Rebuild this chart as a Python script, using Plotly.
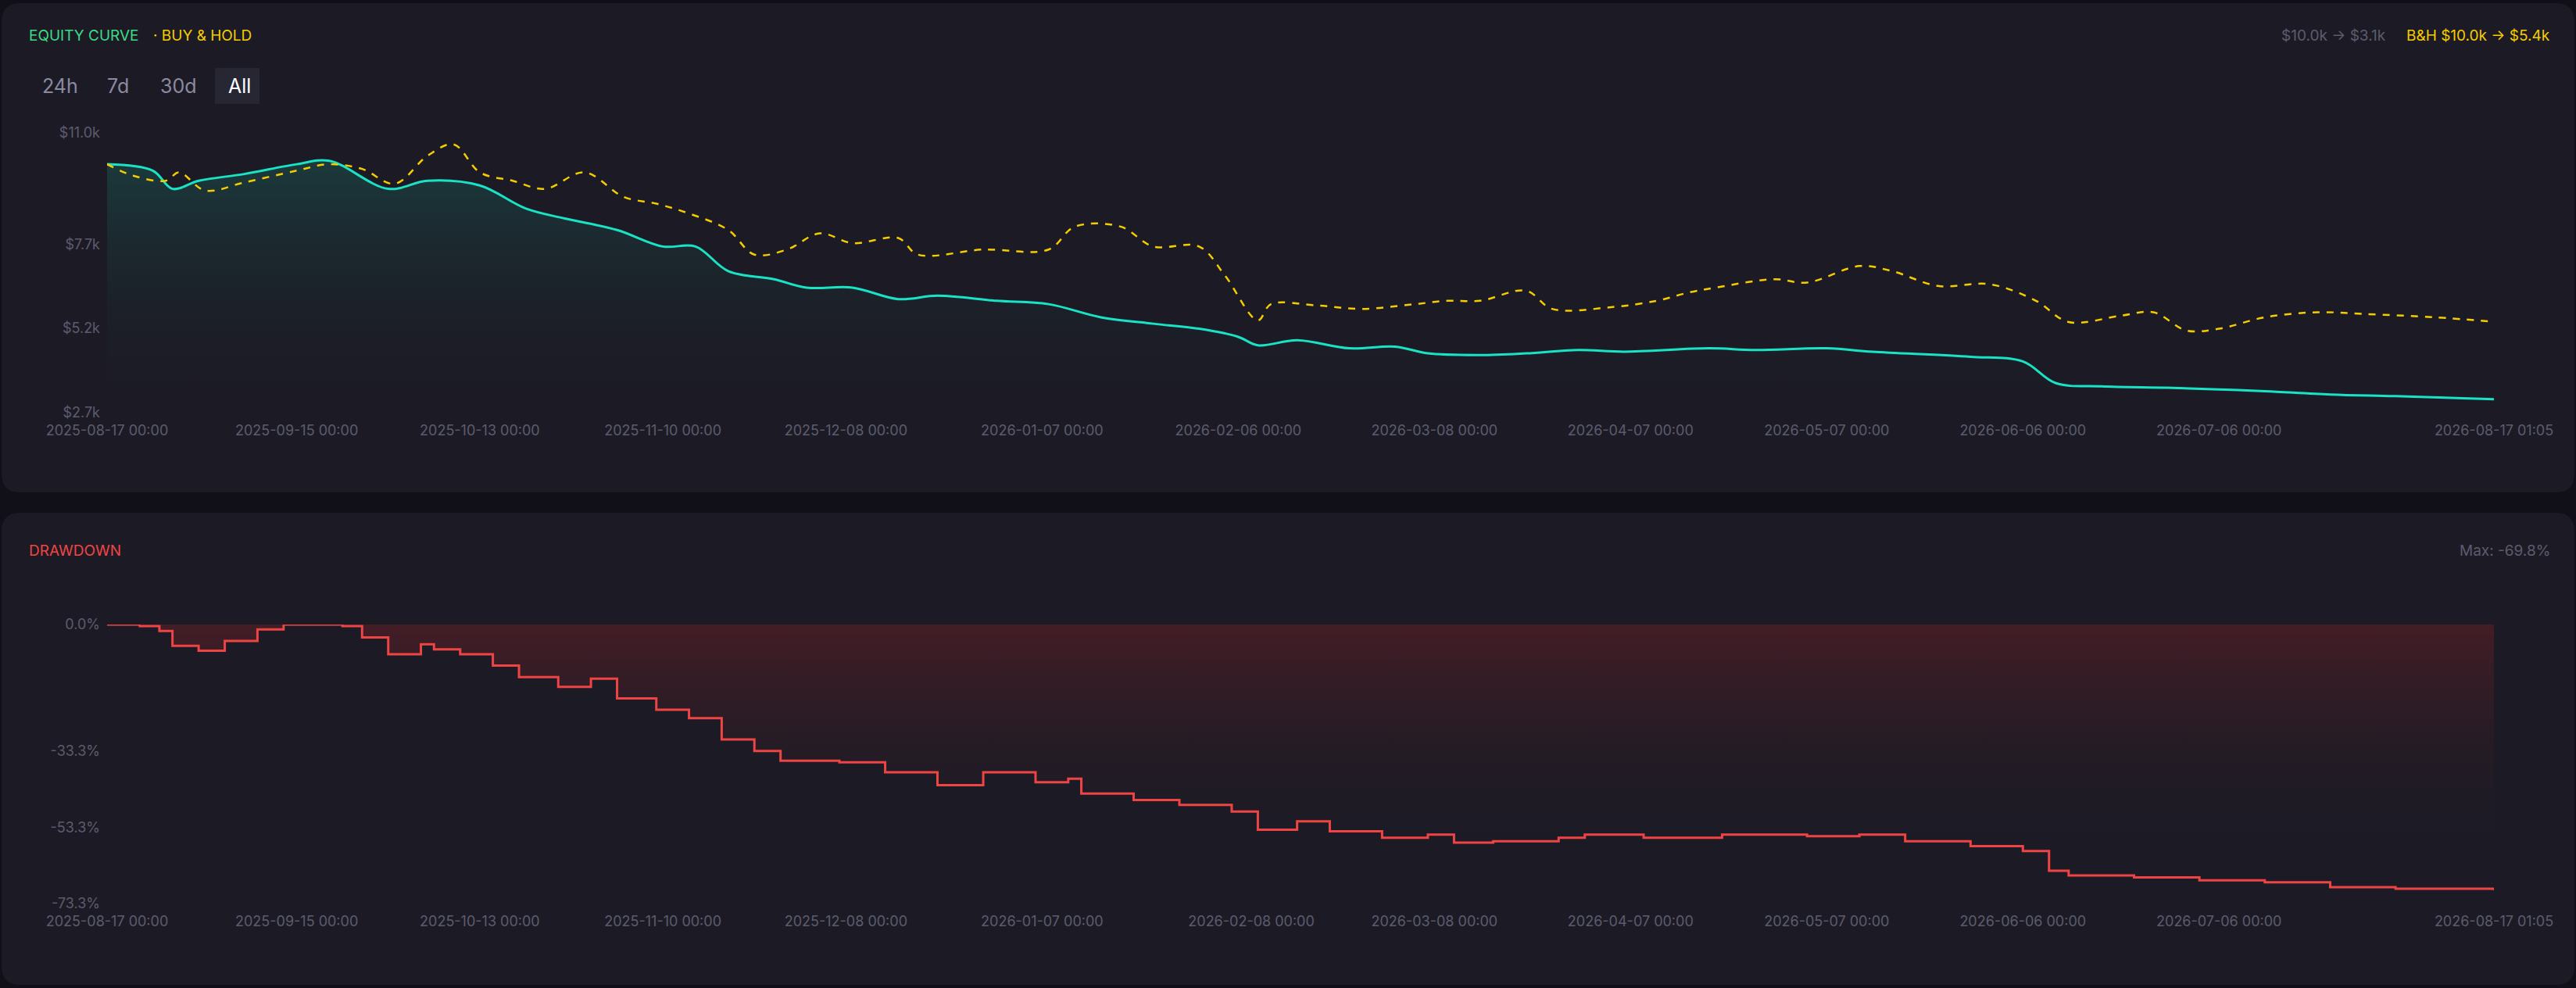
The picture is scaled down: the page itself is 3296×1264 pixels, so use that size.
import pandas as pd
import plotly.graph_objects as go
from plotly.subplots import make_subplots

W, H = 3296, 1264
START = pd.Timestamp('2025-08-17 00:00')

# equity curve (day offset, value in $k)
eq_days = [0, 7, 10, 14, 21, 29, 34, 43, 49, 57, 64, 70, 78, 85, 90, 95, 102, 107, 114, 121, 127, 136, 144,
           152, 160, 167, 173, 176, 182, 190, 197, 202, 210, 217, 225, 232, 245, 252, 263, 270, 285, 293, 298,
           305, 315, 323, 330, 340, 350, 365]
eq_vals = [10.07, 9.88, 9.34, 9.58, 9.78, 10.07, 10.17, 9.34, 9.58, 9.44, 8.76, 8.46, 8.12, 7.63, 7.63, 6.90,
           6.66, 6.41, 6.41, 6.07, 6.17, 6.02, 5.92, 5.53, 5.34, 5.19, 4.95, 4.70, 4.85, 4.61, 4.66, 4.46, 4.41,
           4.46, 4.56, 4.51, 4.61, 4.56, 4.61, 4.51, 4.36, 4.22, 3.58, 3.48, 3.44, 3.39, 3.34, 3.24, 3.19, 3.10]

# buy & hold benchmark
bh_days = [0, 4, 9, 11, 15, 21, 29, 34, 39, 44, 49, 53, 57, 62, 67, 73, 79, 84, 89, 95, 99, 104, 109, 114, 121,
           124, 134, 144, 148, 155, 160, 167, 171, 176, 178, 185, 192, 200, 205, 210, 217, 221, 230, 237, 242,
           246, 255, 260, 268, 273, 280, 288, 295, 300, 308, 313, 318, 323, 330, 338, 345, 356, 365]
bh_vals = [10.07, 9.73, 9.58, 9.83, 9.29, 9.53, 9.88, 10.07, 9.93, 9.49, 10.32, 10.66, 9.83, 9.58, 9.34, 9.83,
           9.10, 8.90, 8.61, 8.12, 7.39, 7.54, 8.02, 7.73, 7.88, 7.39, 7.54, 7.54, 8.22, 8.22, 7.63, 7.63, 6.76,
           5.44, 5.92, 5.88, 5.78, 5.92, 6.02, 6.02, 6.32, 5.78, 5.83, 6.02, 6.27, 6.41, 6.66, 6.56, 7.05, 6.90,
           6.46, 6.51, 6.02, 5.39, 5.58, 5.68, 5.14, 5.19, 5.53, 5.68, 5.63, 5.53, 5.40]

# drawdown in percent
dd_days = [0, 5, 8, 10, 14, 18, 23, 27, 34, 36, 39, 43, 48, 50, 54, 59, 63, 69, 74, 78, 84, 89, 93, 94, 99,
           103, 112, 119, 127, 134, 142, 147, 149, 157, 164, 172, 176, 182, 187, 195, 202, 206, 212, 222, 226,
           235, 247, 260, 268, 275, 285, 293, 297, 300, 310, 320, 330, 340, 350, 365]
dd_vals = [0.0, -0.4, -1.7, -5.6, -6.9, -4.3, -1.3, 0.0, 0.0, -0.4, -3.4, -7.8, -5.2, -6.5, -7.8, -10.8, -13.8,
           -16.4, -14.2, -19.4, -22.4, -24.6, -24.6, -30.2, -33.2, -35.8, -36.2, -38.8, -42.2, -38.8, -41.4,
           -40.5, -44.4, -46.1, -47.4, -49.1, -53.9, -51.7, -54.3, -56.0, -55.2, -57.3, -56.9, -56.0, -55.2,
           -56.0, -55.2, -55.6, -55.2, -56.9, -58.2, -59.5, -64.7, -65.9, -66.4, -67.2, -67.7, -69.0, -69.4, -69.8]

eq_x = [START + pd.Timedelta(days=d) for d in eq_days]
bh_x = [START + pd.Timedelta(days=d) for d in bh_days]
dd_x = [START + pd.Timedelta(days=d) for d in dd_days]
eq_x[-1] = bh_x[-1] = dd_x[-1] = pd.Timestamp('2026-08-17 01:05')

tick_dates = ['2025-08-17 00:00', '2025-09-15 00:00', '2025-10-13 00:00', '2025-11-10 00:00',
              '2025-12-08 00:00', '2026-01-07 00:00', '2026-02-06 00:00', '2026-03-08 00:00',
              '2026-04-07 00:00', '2026-05-07 00:00', '2026-06-06 00:00', '2026-07-06 00:00',
              '2026-08-17 01:05']
dd_tick_dates = list(tick_dates)
dd_tick_dates[6] = '2026-02-08 00:00'

MUTED = '#5c5b6e'
FONT = 'Inter'


def panel(y0, y1, r=24):
    """Rounded rectangle path in paper coords for a card."""
    x0, x1 = 2 / W, 1 - 2 / W
    rx, ry = r / W, r / H
    return (f'M {x0 + rx},{y1} L {x1 - rx},{y1} Q {x1},{y1} {x1},{y1 - ry} L {x1},{y0 + ry} '
            f'Q {x1},{y0} {x1 - rx},{y0} L {x0 + rx},{y0} Q {x0},{y0} {x0},{y0 + ry} '
            f'L {x0},{y1 - ry} Q {x0},{y1} {x0 + rx},{y1} Z')


fig = make_subplots(rows=2, cols=1, vertical_spacing=0.2)

fig.add_trace(go.Scatter(x=eq_x, y=eq_vals, mode='lines', line=dict(color='#19e3c4', width=3, shape='spline'),
                         fill='tozeroy',
                         fillgradient=dict(type='vertical', start=2.7, stop=10.2,
                                           colorscale=[[0, 'rgba(28,27,36,0)'], [1, 'rgba(25,105,95,0.4)']]),
                         showlegend=False), row=1, col=1)
fig.add_trace(go.Scatter(x=bh_x, y=bh_vals, mode='lines',
                         line=dict(color='#f5cc00', width=2.5, dash='dash', shape='spline'),
                         showlegend=False), row=1, col=1)
fig.add_trace(go.Scatter(x=dd_x, y=dd_vals, mode='lines', line=dict(color='#ef4444', width=3, shape='hv'),
                         fill='tozeroy',
                         fillgradient=dict(type='vertical', start=-62, stop=0,
                                           colorscale=[[0, 'rgba(28,27,36,0)'], [1, 'rgba(85,30,38,0.7)']]),
                         showlegend=False), row=2, col=1)

xd = [137 / W, 3191 / W]
axis_style = dict(showgrid=False, zeroline=False, showline=False, ticks='', automargin=False,
                  tickfont=dict(color=MUTED, size=18, family=FONT))
fig.update_xaxes(domain=xd, range=[START, pd.Timestamp('2026-08-17 01:05')], ticklabelstandoff=10, **axis_style)
fig.update_yaxes(ticklabelstandoff=8, **axis_style)
fig.update_xaxes(tickvals=tick_dates, ticktext=tick_dates, row=1, col=1)
fig.update_xaxes(tickvals=dd_tick_dates, ticktext=dd_tick_dates, row=2, col=1)
fig.update_yaxes(domain=[1 - 528 / H, 1 - 170 / H], range=[2.7, 11.0],
                 tickvals=[2.7, 5.2, 7.7, 11.0], ticktext=['$2.7k', '$5.2k', '$7.7k', '$11.0k'], row=1, col=1)
fig.update_yaxes(domain=[1 - 1156 / H, 1 - 799 / H], range=[-73.3, 0],
                 tickvals=[-73.3, -53.3, -33.3, 0], ticktext=['-73.3%', '-53.3%', '-33.3%', '0.0%'], row=2, col=1)

fig.update_layout(
    width=W, height=H, margin=dict(l=0, r=0, t=0, b=0, pad=0, autoexpand=False),
    paper_bgcolor='#111019', plot_bgcolor='rgba(0,0,0,0)',
    font=dict(family=FONT, color=MUTED),
    shapes=[
        dict(type='path', xref='paper', yref='paper', path=panel(1 - 630 / H, 1 - 4 / H),
             fillcolor='#1c1b25', line=dict(width=0), layer='below'),
        dict(type='path', xref='paper', yref='paper', path=panel(4 / H, 1 - 656 / H),
             fillcolor='#1c1b25', line=dict(width=0), layer='below'),
        dict(type='rect', xref='paper', yref='paper', x0=275 / W, x1=332 / W, y0=1 - 133 / H, y1=1 - 87 / H,
             fillcolor='#272633', line=dict(width=0), layer='below'),
    ],
)

ann = [
    ('EQUITY CURVE', 35, 46, '#3ddc84', 'left', 19),
    ('· BUY & HOLD', 194, 46, '#f5cc00', 'left', 19),
    ('24h', 52, 110, '#8a8aa0', 'left', 25),
    ('7d', 135, 110, '#8a8aa0', 'left', 25),
    ('30d', 203, 110, '#8a8aa0', 'left', 25),
    ('All', 290, 110, '#ffffff', 'left', 25),
    ('$10.0k → $3.1k', 3055, 46, MUTED, 'right', 19),
    ('B&H $10.0k → $5.4k', 3265, 46, '#f5cc00', 'right', 19),
    ('DRAWDOWN', 35, 704, '#ef4444', 'left', 19),
    ('Max: -69.8%', 3265, 704, MUTED, 'right', 19),
]
for text, px, py, color, anchor, size in ann:
    fig.add_annotation(text=text, x=px / W, y=1 - py / H, xref='paper', yref='paper', showarrow=False,
                       xanchor=anchor, yanchor='middle', font=dict(color=color, size=size, family=FONT))

fig.write_html('out.html', config={'displayModeBar': False},
               post_script="document.body.style.margin='0';")
